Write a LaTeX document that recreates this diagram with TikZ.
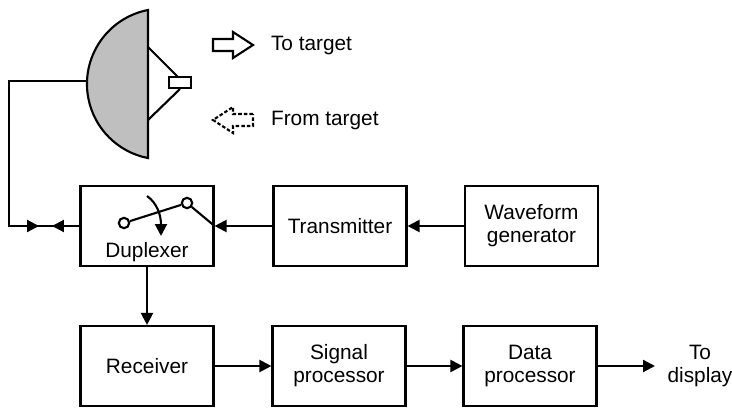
\documentclass[tikz,border=0pt]{standalone}
\usepackage{fontspec}
\setmainfont{Liberation Sans}
\usetikzlibrary{arrows.meta}
\tikzset{>={Triangle[length=8.5pt,width=8.5pt]}}
\tikzset{
  block/.style={draw, minimum width=3.325cm, minimum height=2cm, align=center, inner sep=0pt},
  contact/.style={draw, circle, fill=white, minimum size=0.26cm, inner sep=0pt},
}

\begin{document}
\begin{tikzpicture}[x=0.025cm, y=-0.025cm, line width=1.5pt, font=\fontsize{14.8}{16.5}\selectfont]
  \useasboundingbox (0,0) rectangle (732,408);

  % dish and feed horn
  \filldraw[fill=black!25] (148,10) arc[start angle=101, end angle=259, radius=1.885cm] -- cycle;
  \draw (148,47) -- (178,77);
  \draw (148,120) -- (180,89);
  \filldraw[fill=white] (169,77) rectangle (191,88);

  % outgoing / incoming wave
  \draw (213,39) -- (233,39) -- (233,32) -- (253,45) -- (233,58) -- (233,51) -- (213,51) -- cycle;
  \draw[dash pattern=on 2.5pt off 1.5pt] (253,114) -- (233,114) -- (233,107) -- (213,120) -- (233,133) -- (233,126) -- (253,126) -- cycle;
  \node (totarget) [anchor=west, inner sep=0pt] at (270,45) {To target};
  \node (fromtarget) [anchor=west, inner sep=0pt] at (270,120) {From target};

  % blocks
  \node[block] (dup) at (147,226) {};
  \node (duptext) at ([yshift=0.375cm]dup.south) {Duplexer};
  \node[block] (tx) at (340,226) {Transmitter};
  \node[block] (wg) at (531.5,226) {Waveform\\generator};
  \node[block] (rx) at (147,366) {Receiver};
  \node[block] (sp) at (339,366) {Signal\\processor};
  \node[block] (dp) at (530,366) {Data\\processor};
  \node (display) [align=center] at (700,366) {To\\display};
  \coordinate (out) at (655,366);

  % switch inside the duplexer
  \node[contact] (swa) at (124,223) {};
  \node[contact] (swb) at (187,203) {};
  \draw (swa) -- (swb) -- (dup.east);
  \draw[->] (147,196) .. controls (157,203) and (161,215) .. (161,236);

  % line to the dish
  \coordinate (rim) at (87,81);
  \coordinate (bend) at (9,226);
  \coordinate (txtip) at (39,226);
  \coordinate (rxtip) at (52,226);
  \draw (rim) -| (bend) -- (dup);
  \draw[->] (bend) -- (txtip);
  \draw[->] (dup) -- (rxtip);

  \draw[->] (wg) -- (tx);
  \draw[->] (tx) -- (dup);
  \draw[->] (dup) -- (rx);
  \draw[->] (rx) -- (sp);
  \draw[->] (sp) -- (dp);
  \draw[->] (dp) -- (out);
\end{tikzpicture}
\end{document}
